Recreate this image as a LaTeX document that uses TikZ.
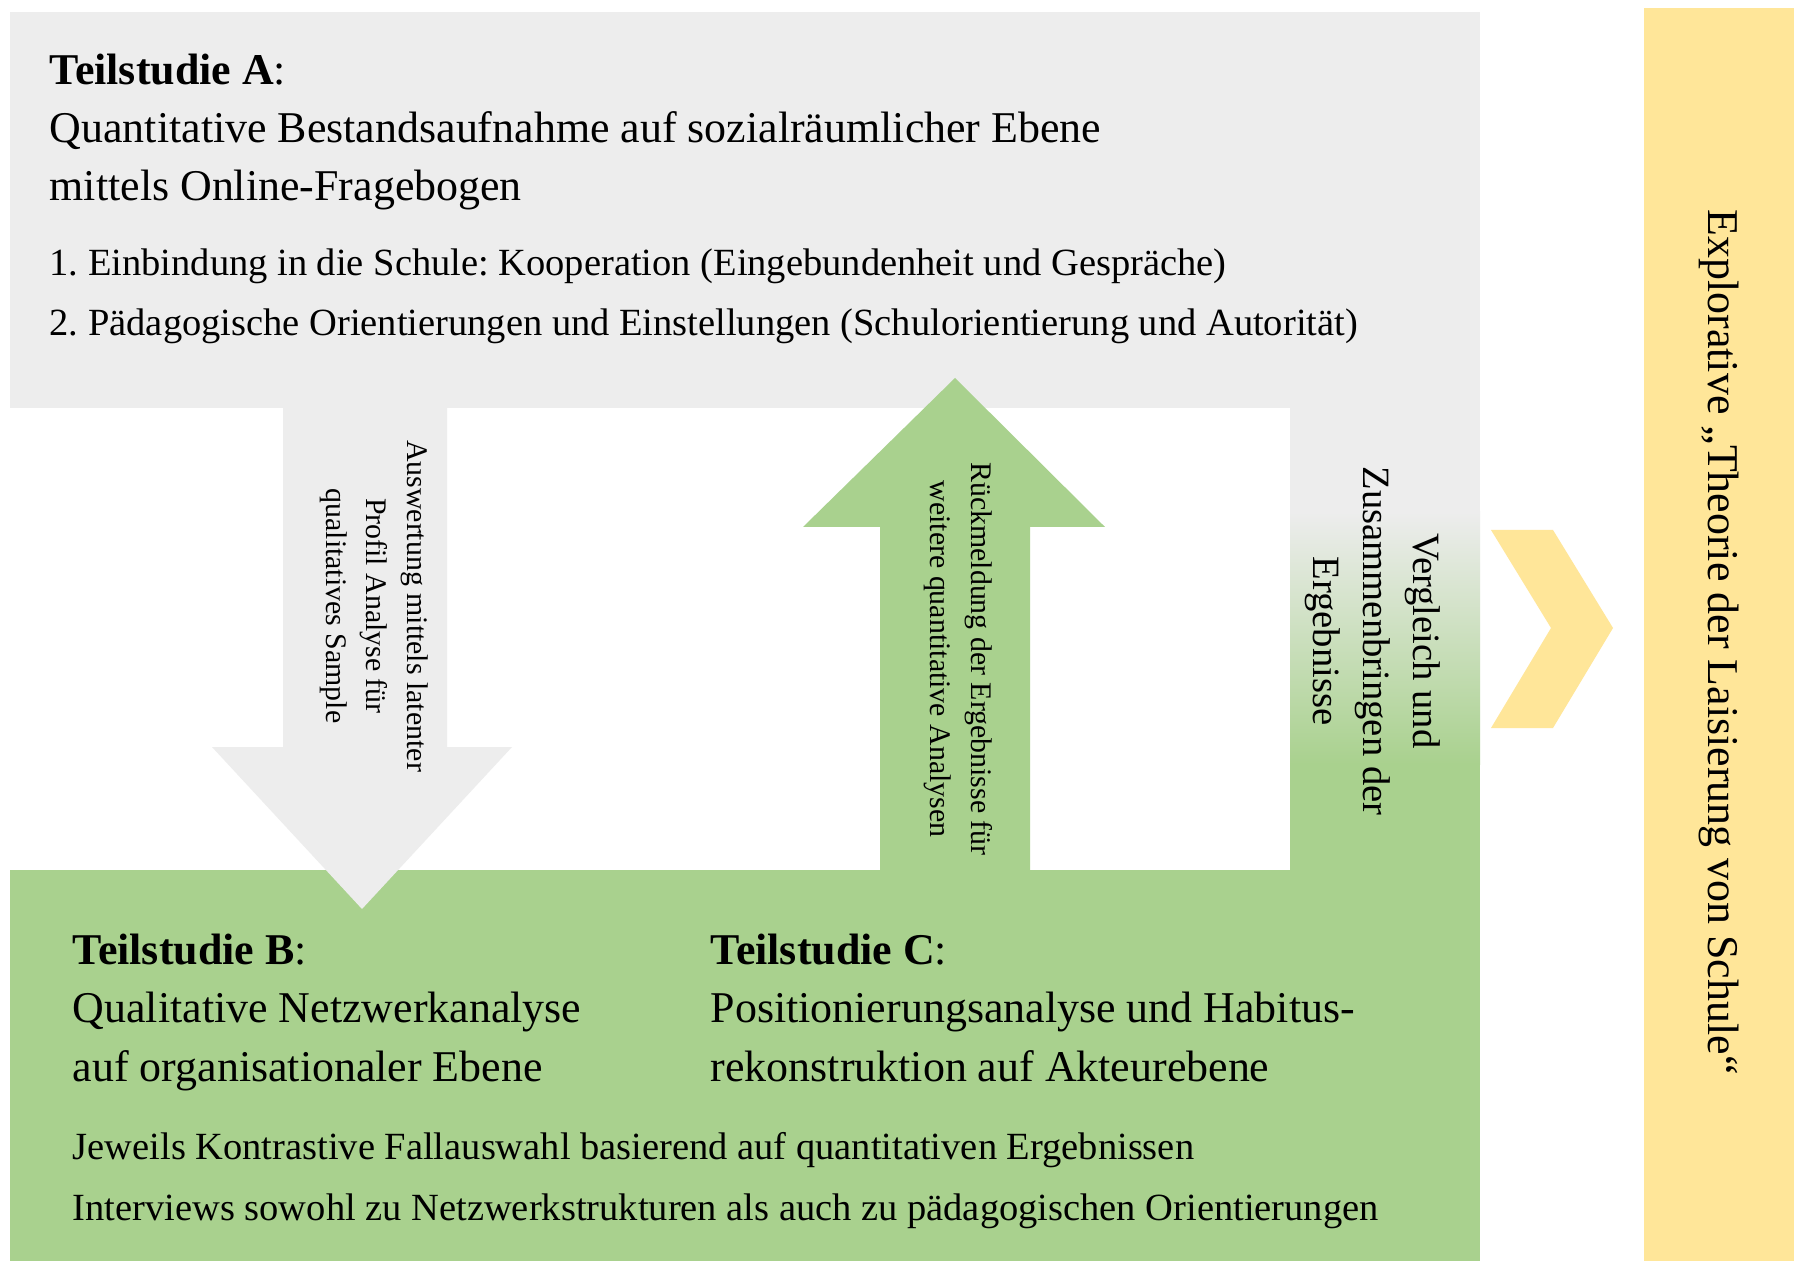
\documentclass[tikz,border=0pt]{standalone}
\usepackage{fontspec}
\setmainfont{Liberation Serif}
\usepackage{xcolor,tikz}
\definecolor{grau}{HTML}{EDEDED}
\definecolor{gruen}{HTML}{A9D18E}
\definecolor{gelb}{HTML}{FFE699}
\newcommand{\teilA}{\textbf{Teilstudie A}:}
\newcommand{\teilB}{\textbf{Teilstudie B}:}
\newcommand{\teilC}{\textbf{Teilstudie C}:}
\frenchspacing

\begin{document}
\begin{tikzpicture}[x=0.1mm,y=-0.1mm,
                head/.style = {anchor=base west, inner sep=0pt, align=left, font=\fontsize{12.5}{16.6}\selectfont},
                item/.style = {anchor=base west, inner sep=0pt, align=left, font=\fontsize{10.95}{17.1}\selectfont},
                turned/.style = {rotate=-90, align=center, inner sep=0pt, font=\fontsize{8.5}{11.6}\selectfont}]
                \useasboundingbox (0,0) rectangle (1794,1261);
                \fill[white] (0,0) rectangle (1794,1261);
                % Flaechen
                \fill[grau] (10,12) rectangle (1480,408);
                \fill[grau] (1290,400) rectangle (1480,513);
                \shade[top color=grau, bottom color=gruen] (1290,512) rectangle (1480,764);
                \fill[gruen] (1290,763) rectangle (1480,871);
                \fill[gruen] (10,870) rectangle (1480,1261);
                % Pfeile
                \fill[grau] (283,400) -- (447,400) -- (447,747) -- (512,747) -- (362,909) -- (212,747) -- (283,747) -- cycle;
                \fill[gruen] (880,878) -- (1030,878) -- (1030,527) -- (1105,527) -- (955,378) -- (803,527) -- (880,527) -- cycle;
                \fill[gelb] (1491,530) -- (1553,530) -- (1613,628) -- (1553,728) -- (1491,728) -- (1551,628) -- cycle;
                \fill[gelb] (1644,8) rectangle (1794,1261);
                % Texte (Anker an der letzten Zeile)
                \node[head] (A) at (49,201) {\teilA\\Quantitative Bestandsaufnahme auf sozialräumlicher Ebene\\mittels Online-Fragebogen};
                \node[item] (A1) at (49,336) {1. Einbindung in die Schule: Kooperation (Eingebundenheit und Gespräche)\\2. Pädagogische Orientierungen und Einstellungen (Schulorientierung und Autorität)};
                \node[head] (B) at (72,1081) {\teilB\\Qualitative Netzwerkanalyse\\auf organisationaler Ebene};
                \node[head] (C) at (710,1081) {\teilC\\Positionierungsanalyse und Habitus-\\rekonstruktion auf Akteurebene};
                \node[item] (BC) at (72,1220) {Jeweils Kontrastive Fallauswahl basierend auf quantitativen Ergebnissen\\Interviews sowohl zu Netzwerkstrukturen als auch zu pädagogischen Orientierungen};
                \node[turned] (AB) at (374,606) {Auswertung mittels latenter\\Profil Analyse für\\qualitatives Sample};
                \node[turned] (CA) at (958,659) {Rückmeldung der Ergebnisse für\\weitere quantitative Analysen};
                \node[turned, font=\fontsize{11}{14.2}\selectfont] (V) at (1373,641) {Vergleich und\\Zusammenbringen der\\Ergebnisse};
                \node[turned, font=\fontsize{12.5}{15}\selectfont] (T) at (1719,642) {Explorative „Theorie der Laisierung von Schule“};
            \end{tikzpicture}
\end{document}
